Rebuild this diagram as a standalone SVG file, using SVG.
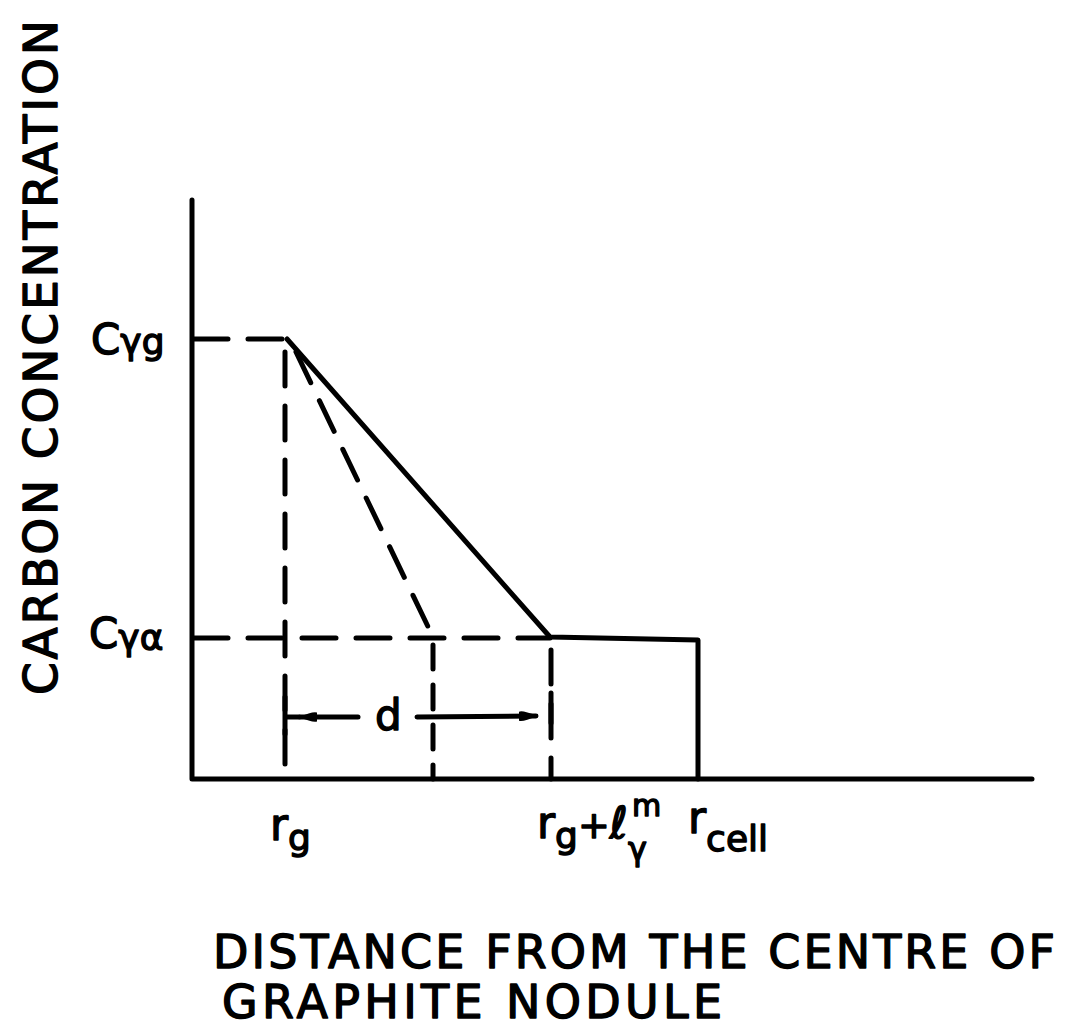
<svg xmlns="http://www.w3.org/2000/svg" width="1074" height="1032" viewBox="0 0 1074 1032">
<style>
.ln{fill:none;stroke:#000;stroke-width:5;stroke-linecap:round;stroke-linejoin:round}
.dl{fill:none;stroke:#000;stroke-width:5;stroke-linecap:round;stroke-dasharray:34 20}
.ds{fill:none;stroke:#000;stroke-width:5;stroke-linecap:round;stroke-dasharray:24 16}
.t{font-family:"DejaVu Sans","Liberation Sans",sans-serif;fill:#000;stroke:#000;stroke-width:1.4;stroke-linejoin:round}
</style>
<defs>
<marker id="ah" viewBox="0 0 18 12" refX="17" refY="6" markerWidth="18" markerHeight="12" markerUnits="userSpaceOnUse" orient="auto-start-reverse">
<path d="M0,1.5 Q4,0 18,6 Q4,12 0,10.5 Z" fill="#000"/>
</marker>
</defs>
<rect width="1074" height="1032" fill="#fff"/>
<g id="axes">
<path class="ln" d="M192,200 L192,779 L1032,779"/>
</g>
<g id="connectors">
<path class="dl" d="M194,339 L287,339"/>
<path class="dl" d="M285,352 L285,779"/>
<path class="dl" d="M194,638 L550,638"/>
<path class="ds" d="M433,645 L433,779"/>
<path class="dl" d="M551,650 L551,779"/>
<path class="dl" d="M296,352 L433,637"/>
<path class="ln" d="M287,339 L550,637 L698,640 L698,779"/>
<path class="ln" d="M285,697 L285,734"/>
<path class="ln" d="M551,693 L551,723"/>
<path class="ln" d="M358,717 L300,717" marker-end="url(#ah)"/>
<path class="ln" d="M417,717 L536,716" marker-end="url(#ah)"/>
<path class="ln" d="M287,717 L299,717"/>
</g>
<g id="labels">
<text class="t" font-size="42" x="91" y="354">C<tspan font-size="36" dy="0">γg</tspan></text>
<text class="t" font-size="42" x="89" y="648">C<tspan font-size="36" dy="2">γα</tspan></text>
<text class="t" x="375" y="730" font-size="42">d</text>
<text class="t" font-size="44" x="270" y="840">r<tspan font-size="36" dy="10">g</tspan></text>
<text class="t" font-size="44" x="537" y="838">r<tspan font-size="36" dy="10">g</tspan><tspan font-size="38" dy="-10">+</tspan><tspan font-size="44" font-style="italic">ℓ</tspan><tspan font-size="30" x="632" y="816">m</tspan><tspan font-size="32" x="628" y="860">γ</tspan></text>
<text class="t" font-size="44" x="688" y="833">r<tspan font-size="36" dy="18">cell</tspan></text>
<text class="t" font-size="47" transform="translate(57,695) rotate(-90)" textLength="675" lengthAdjust="spacing">CARBON CONCENTRATION</text>
<text class="t" font-size="46" x="213" y="968" textLength="842" lengthAdjust="spacing">DISTANCE FROM THE CENTRE OF</text>
<text class="t" font-size="46" x="222" y="1018" textLength="500" lengthAdjust="spacing">GRAPHITE NODULE</text>
</g>
</svg>
